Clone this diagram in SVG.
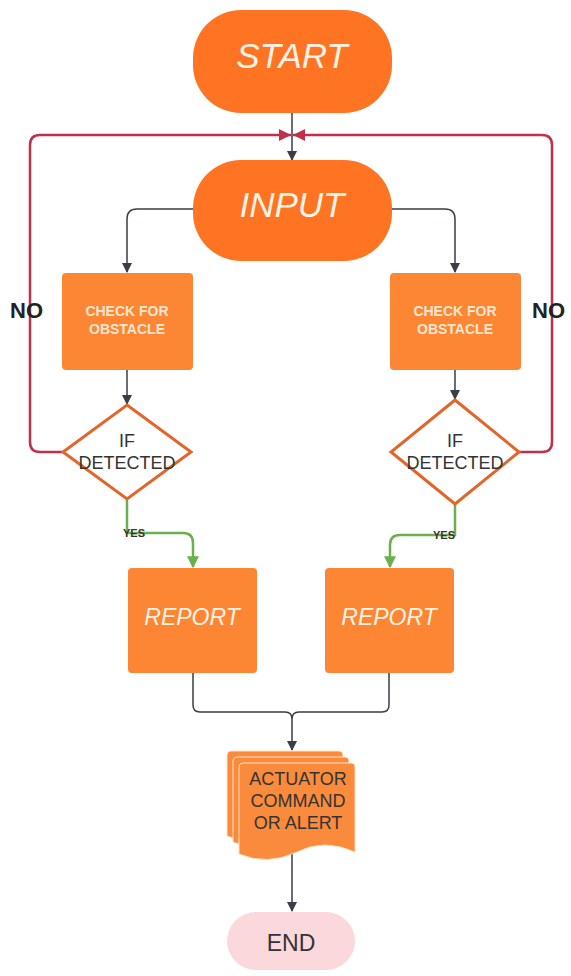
<svg xmlns="http://www.w3.org/2000/svg" width="571" height="976" viewBox="0 0 571 976">
<defs>
<marker id="ad" viewBox="0 0 10 10" refX="9" refY="5" markerWidth="10" markerHeight="11" markerUnits="userSpaceOnUse" orient="auto"><path d="M0,0 L10,5 L0,10 z" fill="#3a3d45"/></marker>
<marker id="ag" viewBox="0 0 10 10" refX="9" refY="5" markerWidth="12" markerHeight="12" markerUnits="userSpaceOnUse" orient="auto"><path d="M0,0 L10,5 L0,10 z" fill="#6ab04c"/></marker>
<marker id="ar" viewBox="0 0 10 10" refX="10" refY="5" markerWidth="15" markerHeight="12" markerUnits="userSpaceOnUse" orient="auto"><path d="M0,0 L10,5 L0,10 z" fill="#c0304a"/></marker>
</defs>
<style>
.dk{fill:none;stroke:#3a3d45;stroke-width:1.5}
.gr{fill:none;stroke:#6ab04c;stroke-width:2.5}
.rd{fill:none;stroke:#c0304a;stroke-width:2.5}
.term{fill:#fe7423}
.box{fill:#fd8634}
.big{font-family:"Liberation Sans",Arial,sans-serif;font-style:italic;fill:#fff3e6;text-anchor:middle}
.chk{font-family:"Liberation Sans",Arial,sans-serif;font-weight:bold;font-size:14px;fill:#fde6cf;text-anchor:middle}
.dia{fill:#fff;stroke:#e2652a;stroke-width:3}
.dt{font-family:"Liberation Sans",Arial,sans-serif;font-size:18px;fill:#333;text-anchor:middle}
.no{font-family:"Liberation Sans",Arial,sans-serif;font-weight:bold;font-size:22px;fill:#222}
.yes{font-family:"Liberation Sans",Arial,sans-serif;font-weight:bold;font-size:11px;fill:#333}
.doc{fill:#fb8b3c;stroke:#fde0c4;stroke-width:1}
</style>
<rect width="571" height="976" fill="#fff"/>
<g id="connectors">
<path class="dk" d="M292,113 V160" marker-end="url(#ad)"/>
<path class="rd" d="M64,452 H40 Q30,452 30,442 V145 Q30,135 40,135 H291" marker-end="url(#ar)"/>
<path class="rd" d="M518,452 H542 Q552,452 552,442 V145 Q552,135 542,135 H293" marker-end="url(#ar)"/>
<path class="dk" d="M193,209 H137 Q127,209 127,219 V272" marker-end="url(#ad)"/>
<path class="dk" d="M392,209 H445 Q455,209 455,219 V272" marker-end="url(#ad)"/>
<path class="dk" d="M127,370 V404" marker-end="url(#ad)"/>
<path class="dk" d="M455,370 V399" marker-end="url(#ad)"/>
<path class="gr" d="M127,500 V533 H183 Q193,533 193,543 V567" marker-end="url(#ag)"/>
<path class="gr" d="M455,505 V535 H400 Q390,535 390,545 V567" marker-end="url(#ag)"/>
<path class="dk" d="M193,673 V705 Q193,712 200,712 H285 Q292,712 292,719 M389,673 V705 Q389,712 382,712 H299 Q292,712 292,719 V750" marker-end="url(#ad)"/>
<path class="dk" d="M292,852 V911" marker-end="url(#ad)"/>
<text class="yes" x="123" y="537">YES</text>
<text class="yes" x="433" y="539">YES</text>
<text class="no" x="10" y="318">NO</text>
<text class="no" x="532" y="318">NO</text>
</g>
<g id="start">
<rect class="term" x="193" y="10" width="199" height="103" rx="48"/>
<text class="big" x="292" y="68" font-size="35">START</text>
</g>
<g id="input">
<rect class="term" x="193" y="160" width="199" height="101" rx="48"/>
<text class="big" x="292" y="217" font-size="35">INPUT</text>
</g>
<g id="check-left">
<rect class="box" x="62" y="273" width="131" height="97" rx="4"/>
<text class="chk" x="127" y="316">CHECK FOR</text>
<text class="chk" x="127" y="334">OBSTACLE</text>
</g>
<g id="check-right">
<rect class="box" x="390" y="273" width="131" height="97" rx="4"/>
<text class="chk" x="455" y="316">CHECK FOR</text>
<text class="chk" x="455" y="334">OBSTACLE</text>
</g>
<g id="detect-left">
<path class="dia" d="M127,405 L191,452 L127,499 L63,452 Z"/>
<text class="dt" x="127" y="447">IF</text>
<text class="dt" x="127" y="469">DETECTED</text>
</g>
<g id="detect-right">
<path class="dia" d="M455,400 L519,452 L455,504 L391,452 Z"/>
<text class="dt" x="455" y="447">IF</text>
<text class="dt" x="455" y="469">DETECTED</text>
</g>
<g id="report-left">
<rect class="box" x="128" y="568" width="129" height="105" rx="4"/>
<text class="big" x="192" y="625" font-size="23">REPORT</text>
</g>
<g id="report-right">
<rect class="box" x="325" y="568" width="129" height="105" rx="4"/>
<text class="big" x="389" y="625" font-size="23">REPORT</text>
</g>
<g id="actuator">
<path class="doc" d="M227,755 Q227,751 231,751 H339 Q343,751 343,755 V832 Q312,818 285,834 Q255,848 227,836 Z"/>
<path class="doc" d="M233,761 Q233,757 237,757 H345 Q349,757 349,761 V838 Q318,824 291,840 Q261,854 233,842 Z"/>
<path class="doc" d="M239,767 Q239,763 243,763 H351 Q355,763 355,767 V852 Q324,838 297,852 Q267,866 239,854 Z"/>
<text class="dt" x="298" y="785" fill="#3a2a20">ACTUATOR</text>
<text class="dt" x="298" y="807" fill="#3a2a20">COMMAND</text>
<text class="dt" x="298" y="829" fill="#3a2a20">OR ALERT</text>
</g>
<g id="end">
<rect x="227" y="912" width="128" height="58" rx="29" fill="#fbd8db"/>
<text x="291" y="951" font-family="'Liberation Sans',Arial,sans-serif" font-size="23" fill="#333" text-anchor="middle">END</text>
</g>
</svg>
